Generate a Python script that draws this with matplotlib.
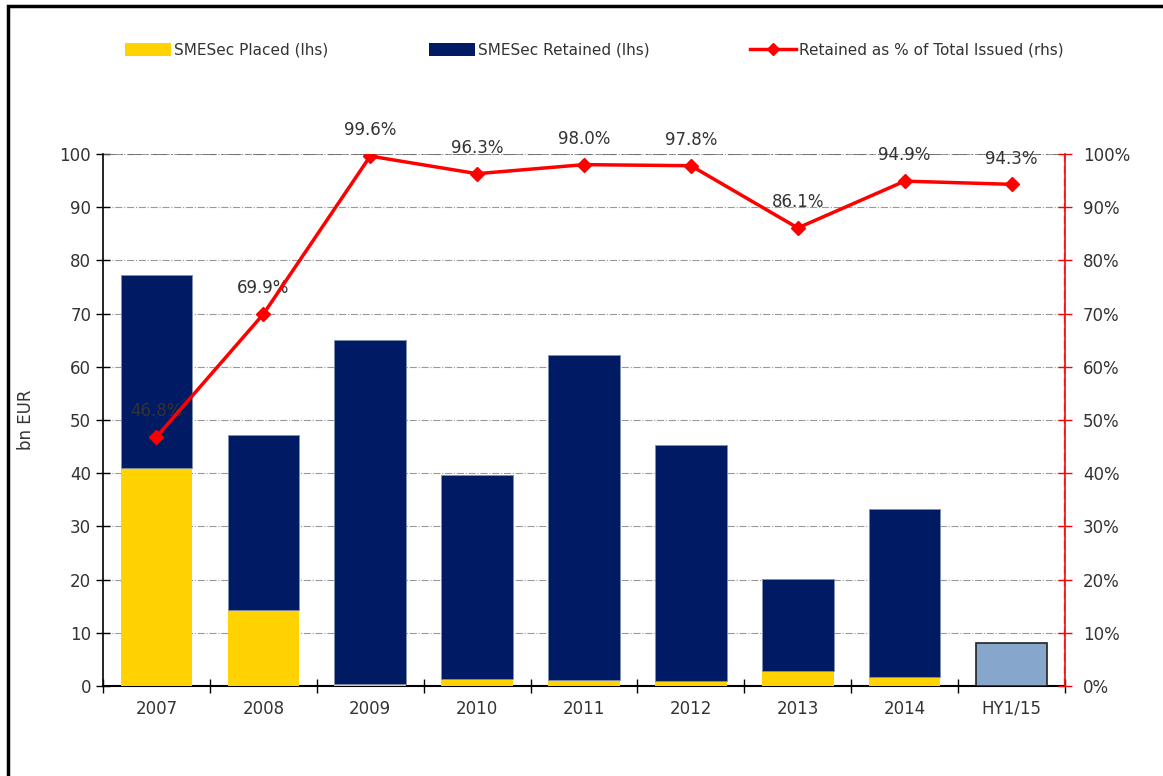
import matplotlib.pyplot as plt
import numpy as np
from matplotlib.lines import Line2D
from matplotlib.patches import Patch, Rectangle

categories = ['2007', '2008', '2009', '2010', '2011', '2012', '2013', '2014', 'HY1/15']
placed = [41.0, 14.2, 0.3, 1.4, 1.2, 1.0, 2.8, 1.7, 0.0]
total = [77.3, 47.2, 65.0, 39.6, 62.3, 45.3, 20.2, 33.2, 8.1]
retained_pct = [46.8, 69.9, 99.6, 96.3, 98.0, 97.8, 86.1, 94.9, 94.3]

yellow = '#FFD200'
navy = '#001A64'
light_blue = '#86A6CC'
text_col = '#333333'

plt.rcParams['font.family'] = ['DejaVu Sans']

fig = plt.figure(figsize=(11.63, 7.76), dpi=100)
ax = fig.add_axes([103 / 1163, 1 - 686 / 776, 962 / 1163, 532 / 776])
ax2 = ax.twinx()

x = np.arange(len(categories))
w = 0.67
retained = [t - p for t, p in zip(total, placed)]

for i in range(len(categories)):
    if categories[i] == 'HY1/15':
        ax.bar(x[i], total[i], w, color=light_blue, edgecolor='#222222', linewidth=1.2, zorder=3)
    else:
        ax.bar(x[i], placed[i], w, color=yellow, zorder=3)
        ax.bar(x[i], retained[i], w, bottom=placed[i], color=navy, edgecolor='#8090B0', linewidth=0.6, zorder=3)

ax.set_xlim(-0.5, len(categories) - 0.5)
ax.set_ylim(0, 100)
ax.set_yticks(range(0, 101, 10))
ax.set_xticks(x)
ax.set_xticklabels(categories, fontsize=12, color=text_col)
ax.set_xticks(np.arange(-0.5, len(categories), 1), minor=True)
ax.tick_params(axis='x', which='major', length=0, pad=10)
ax.tick_params(axis='x', which='minor', direction='inout', length=10, width=1, color='black')
ax.tick_params(axis='y', direction='inout', length=10, width=1, labelsize=12, labelcolor=text_col)
ax.yaxis.grid(True, linestyle='-.', color='#999999', linewidth=0.8, zorder=0)
ax.set_axisbelow(True)
ax.axhline(100, color='#666666', linestyle=(0, (8, 3, 1, 3)), linewidth=1.2, zorder=1)
ax.axvline(len(categories) - 0.5 - 0.01, color='#888888', linestyle=(0, (6, 3)), linewidth=1, zorder=1)
ax.set_ylabel('bn EUR', fontsize=12, color=text_col, labelpad=18)

ax.spines['top'].set_visible(False)
ax.spines['right'].set_visible(False)
ax.spines['left'].set_linewidth(1.2)
ax.spines['bottom'].set_linewidth(1.5)

ax2.plot(x, retained_pct, color='#FF0000', linewidth=2.5, marker='D', markersize=7, zorder=5)
ax2.set_ylim(0, 100)
ax2.set_yticks(range(0, 101, 10))
ax2.set_yticklabels([f'{v}%' for v in range(0, 101, 10)], fontsize=12, color=text_col)
ax2.tick_params(axis='y', direction='inout', length=10, width=1, color='#FF0000', pad=8)
ax2.spines['right'].set_color('#FF0000')
ax2.spines['right'].set_linewidth(1.2)
for s in ['top', 'left', 'bottom']:
    ax2.spines[s].set_visible(False)

for xi, v in zip(x, retained_pct):
    ax2.annotate(f'{v:.1f}%', (xi, v), xytext=(0, 12), textcoords='offset points',
                 ha='center', va='bottom', fontsize=12, color=text_col)

handles = [
    Patch(facecolor=yellow, label='SMESec Placed (lhs)'),
    Patch(facecolor=navy, label='SMESec Retained (lhs)'),
    Line2D([0], [0], color='#FF0000', linewidth=2.5, marker='D', markersize=6,
           label='Retained as % of Total Issued (rhs)'),
]
fig.legend(handles=handles, loc='center', bbox_to_anchor=(0.511, 1 - 50 / 776), ncol=3,
           frameon=False, fontsize=11, columnspacing=6.6, handlelength=3, handleheight=0.9,
           handletextpad=0.2, labelcolor=text_col)

fig.patches.append(Rectangle((8 / 1163, -0.05), 1.1, 1 - 6 / 776 + 0.05, transform=fig.transFigure,
                             fill=False, edgecolor='black', linewidth=2.5))

fig.savefig('out.png', dpi=100)
